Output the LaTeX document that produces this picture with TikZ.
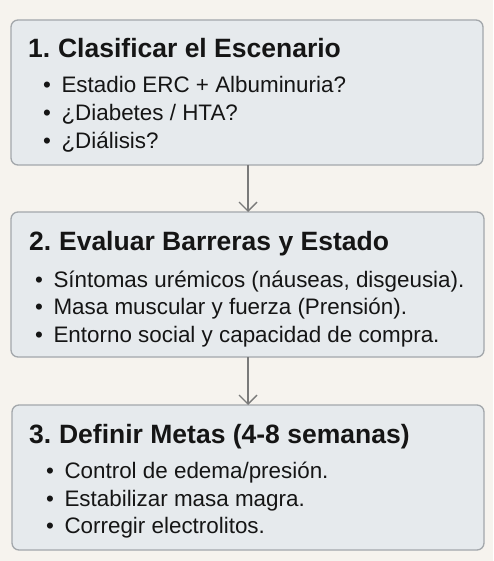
\documentclass[tikz,border=0pt]{standalone}
\usepackage{fontspec}
\setmainfont{Liberation Sans}
\usetikzlibrary{arrows.meta}
\definecolor{bgc}{HTML}{F6F3EE}
\definecolor{boxfill}{HTML}{E6EAED}
\definecolor{boxline}{HTML}{A3A7AB}
\definecolor{arrowc}{HTML}{7A7A7A}
\definecolor{txt}{HTML}{151515}
\tikzset{
  panel/.style={draw=boxline, fill=boxfill, line width=1.3pt, rounded corners=7pt, inner sep=0pt},
  ttl/.style={anchor=base west, inner sep=0pt, text=txt, font=\fontsize{26.5}{30}\selectfont\bfseries},
  itm/.style={anchor=base west, inner sep=0pt, text=txt, font=\fontsize{22.4}{26}\selectfont},
  flow/.style={draw=arrowc, line width=1.4pt, -{Straight Barb[length=9pt,width=18pt,line width=1.4pt]}}
}
\newcommand{\bul}{•\hspace{10.5pt}}
\begin{document}
\begin{tikzpicture}[x=1pt,y=-1pt]
\fill[bgc] (0,0) rectangle (493,561);
\useasboundingbox (0,0) rectangle (493,561);
% boxes
\draw[panel] (11,20) rectangle (483,165);
\coordinate (b1s) at (248,165);
\draw[panel] (11,212) rectangle (484,357);
\coordinate (b2n) at (248,212);
\coordinate (b2s) at (248,357);
\draw[panel] (12,405) rectangle (484,550);
\coordinate (b3n) at (248,405);
% arrows
\draw[flow] (b1s) -- (b2n);
\draw[flow] (b2s) -- (b3n);
% box 1
\node[ttl] (t1) at (28,58) {1.\hspace{-2pt} Clasificar el Escenario};
\node[itm] (a1) at (43,93) {\bul Estadio ERC + Albuminuria?};
\node[itm] (a2) at (43,121) {\bul ¿Diabetes / HTA?};
\node[itm] (a3) at (43,149) {\bul ¿Diálisis?};
% box 2
\node[ttl] (t2) at (29,250) {2.\hspace{-2pt} Evaluar Barreras y Estado};
\node[itm] (c1) at (35,287) {\bul Síntomas urémicos (náuseas, disgeusia).};
\node[itm] (c2) at (35,314) {\bul Masa muscular y fuerza (Prensión).};
\node[itm] (c3) at (35,342) {\bul Entorno social y capacidad de compra.};
% box 3
\node[ttl] (t3) at (29,443) {3.\hspace{-2pt} Definir Metas (4-8 semanas)};
\node[itm] (d1) at (46,478) {\bul Control de edema/presión.};
\node[itm] (d2) at (46,506) {\bul Estabilizar masa magra.};
\node[itm] (d3) at (46,533) {\bul Corregir electrolitos.};
\end{tikzpicture}
\end{document}
